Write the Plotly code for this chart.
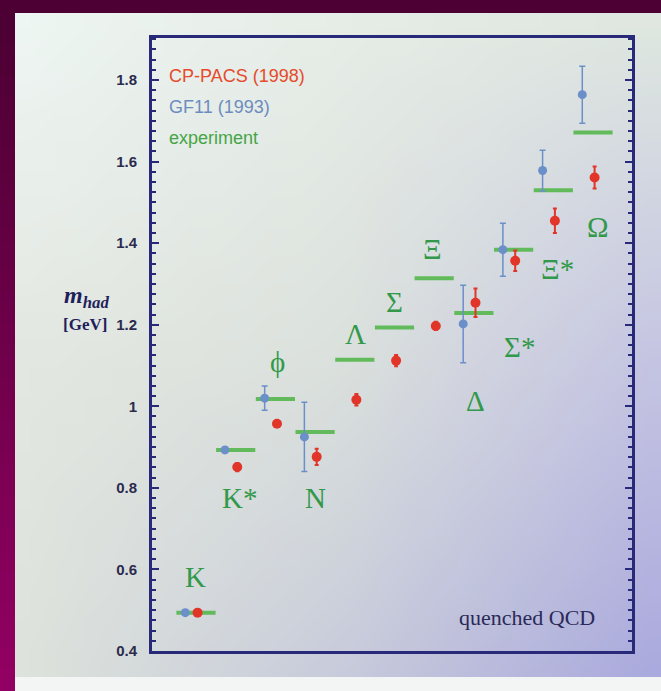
import base64, struct, zlib
import plotly.graph_objects as go

# ---------------- data ----------------
hadrons = ["K", "K*", "φ", "N", "Λ", "Σ", "Ξ", "Δ", "Σ*", "Ξ*", "Ω"]
hadron_labels = ["K", "K*", "ϕ", "N", "Λ", "Σ", "Ξ", "Δ", "Σ*", "Ξ*", "Ω"]
exp_mass = [0.494, 0.893, 1.018, 0.937, 1.114, 1.193, 1.314, 1.229, 1.384, 1.530, 1.671]

cppacs_idx = [0, 1, 2, 3, 4, 5, 6, 7, 8, 9, 10]
cppacs_mass = [0.494, 0.851, 0.957, 0.876, 1.016, 1.112, 1.197, 1.254, 1.357, 1.455, 1.561]
cppacs_err = [0.0, 0.010, 0.008, 0.020, 0.014, 0.014, 0.010, 0.035, 0.025, 0.030, 0.027]

gf11_idx = [0, 1, 2, 3, 7, 8, 9, 10]
gf11_mass = [0.494, 0.893, 1.020, 0.925, 1.202, 1.384, 1.578, 1.764]
gf11_err = [0.0, 0.006, 0.030, 0.085, 0.095, 0.065, 0.050, 0.070]

y_ticks = [0.4, 0.6, 0.8, 1.0, 1.2, 1.4, 1.6, 1.8]
y_ticktext = ["0.4", "0.6", "0.8", "1", "1.2", "1.4", "1.6", "1.8"]

# ---------------- layout settings ----------------
W, H = 661, 691
L, R, T, B = 152, 29, 38, 40
PW, PH = W - L - R, H - T - B
NAVY = "#29297a"
RED = "#e2352a"
BLUE = "#6b8fc8"
GREEN_LINE = "#62bb5a"
GREEN_TXT = "#33994a"

blue_dx = -0.27
red_dx = 0.04
label_dy = [0.088, -0.117, 0.090, -0.161, 0.064, 0.063, 0.071, -0.216, -0.239, -0.193, -0.232]
label_dx = [0.0, 0.10, 0.05, 0.0, 0.03, 0.0, -0.05, 0.03, 0.15, 0.10, 0.12]


def px_x(px):
    return (px - L) / PW


def px_y(py):
    return (H - B - py) / PH


def make_png(w, h, fn):
    rows = []
    for j in range(h):
        row = bytearray([0])
        for i in range(w):
            r, g, b = fn(i / (w - 1), j / (h - 1))
            row += bytes([int(r), int(g), int(b)])
        rows.append(bytes(row))
    raw = b"".join(rows)

    def chunk(tag, data):
        return (struct.pack(">I", len(data)) + tag + data +
                struct.pack(">I", zlib.crc32(tag + data) & 0xffffffff))

    png = (b"\x89PNG\r\n\x1a\n" +
           chunk(b"IHDR", struct.pack(">IIBBBBB", w, h, 8, 2, 0, 0, 0)) +
           chunk(b"IDAT", zlib.compress(raw, 9)) + chunk(b"IEND", b""))
    return "data:image/png;base64," + base64.b64encode(png).decode()


def hexrgb(h):
    h = h.lstrip("#")
    return [int(h[k:k + 2], 16) for k in (0, 2, 4)]


panel_grid = [
    ["#eef6f3", "#e7ede7", "#dfe7e0"],
    ["#e4e8e2", "#dce2dd", "#c6c6e3"],
    ["#dde2dc", "#c8ccdb", "#abaade"],
]
panel_grid = [[hexrgb(c) for c in row] for row in panel_grid]


def panel_fn(u, v):
    gx, gy = u * 2, v * 2
    i0, j0 = min(int(gx), 1), min(int(gy), 1)
    fx, fy = gx - i0, gy - j0
    out = []
    for k in range(3):
        a = panel_grid[j0][i0][k] * (1 - fx) + panel_grid[j0][i0 + 1][k] * fx
        b = panel_grid[j0 + 1][i0][k] * (1 - fx) + panel_grid[j0 + 1][i0 + 1][k] * fx
        out.append(a * (1 - fy) + b * fy)
    return out


top_c, bot_c = hexrgb("#4c0033"), hexrgb("#930063")


def frame_fn(u, v):
    return [top_c[k] * (1 - v) + bot_c[k] * v for k in range(3)]


frame_png = make_png(4, 32, frame_fn)
panel_png = make_png(24, 24, panel_fn)

fig = go.Figure()

# experiment lines
fig.add_trace(go.Scatter(
    x=list(range(len(hadrons))), y=exp_mass, mode="markers",
    marker=dict(symbol="line-ew", size=28, line=dict(width=4, color=GREEN_LINE)),
    name="experiment", hoverinfo="skip"))

# GF11
fig.add_trace(go.Scatter(
    x=[i + blue_dx for i in gf11_idx], y=gf11_mass, mode="markers",
    marker=dict(size=9, color=BLUE),
    error_y=dict(type="data", array=gf11_err, color=BLUE, thickness=1.5, width=3),
    name="GF11 (1993)"))

# CP-PACS
fig.add_trace(go.Scatter(
    x=[i + red_dx for i in cppacs_idx], y=cppacs_mass, mode="markers",
    marker=dict(size=10, color=RED),
    error_y=dict(type="data", array=cppacs_err, color=RED, thickness=2, width=2),
    name="CP-PACS (1998)"))

annotations = []
for i, lab in enumerate(hadron_labels):
    annotations.append(dict(
        x=i + label_dx[i], y=exp_mass[i] + label_dy[i], xref="x", yref="y",
        text=lab, showarrow=False,
        font=dict(family="Liberation Serif", size=29, color=GREEN_TXT)))

legend_items = [("CP-PACS (1998)", "#e54b2c", 76), ("GF11 (1993)", "#6c8cc0", 107),
                ("experiment", "#45a545", 138)]
for txt, col, py in legend_items:
    annotations.append(dict(
        x=px_x(167), y=px_y(py), xref="paper", yref="paper", xanchor="left", yanchor="middle",
        text=txt, showarrow=False,
        font=dict(family="Liberation Sans", size=18, color=col)))

annotations.append(dict(
    x=px_x(527), y=px_y(617), xref="paper", yref="paper", xanchor="center", yanchor="middle",
    text="quenched QCD", showarrow=False,
    font=dict(family="Liberation Serif", size=22, color="#2a2a58")))

annotations.append(dict(
    x=px_x(86), y=px_y(297), xref="paper", yref="paper", xanchor="center", yanchor="middle",
    text="<b><i>m</i></b><sub><b><i>had</i></b></sub>", showarrow=False,
    font=dict(family="Liberation Serif", size=24, color="#1f1f5c")))
annotations.append(dict(
    x=px_x(85), y=px_y(324), xref="paper", yref="paper", xanchor="center", yanchor="middle",
    text="<b>[GeV]</b>", showarrow=False,
    font=dict(family="Liberation Serif", size=17, color="#1f1f5c")))

images = [
    dict(source=frame_png, xref="paper", yref="paper", x=px_x(0), y=px_y(0),
         sizex=W / PW, sizey=H / PH, sizing="stretch", xanchor="left", yanchor="top",
         layer="below"),
    dict(source=panel_png, xref="paper", yref="paper", x=px_x(15), y=px_y(13),
         sizex=(W - 15) / PW, sizey=(H - 13) / PH, sizing="stretch", xanchor="left",
         yanchor="top", layer="below"),
]

shapes = [
    dict(type="rect", xref="paper", yref="paper", x0=px_x(15), x1=px_x(W), y0=px_y(H),
         y1=px_y(677), fillcolor="#f3f5f4", line=dict(width=0), layer="below"),
]

fig.update_layout(
    width=W, height=H,
    margin=dict(l=L, r=R, t=T, b=B, pad=0),
    paper_bgcolor="#4c0033", plot_bgcolor="rgba(0,0,0,0)",
    showlegend=False,
    images=images, shapes=shapes, annotations=annotations,
    xaxis=dict(range=[-1.108, 10.982], showline=True, mirror=True, linecolor=NAVY,
               linewidth=3, showticklabels=False, ticks="", showgrid=False, zeroline=False),
    yaxis=dict(range=[0.4, 1.903], tickmode="array", tickvals=y_ticks, ticktext=y_ticktext,
               ticks="inside", ticklen=7, tickwidth=2, tickcolor=NAVY,
               showline=True, mirror="allticks", linecolor=NAVY, linewidth=3,
               showgrid=False, zeroline=False, ticklabelstandoff=9,
               tickfont=dict(family="Liberation Sans", size=15, color="#2b2b4e", weight="bold"),
               minor=dict(tickmode="linear", tick0=0.4, dtick=0.025, ticks="inside", ticklen=4,
                          tickwidth=1.5, tickcolor=NAVY)),
)

fig.write_html("out.html")
